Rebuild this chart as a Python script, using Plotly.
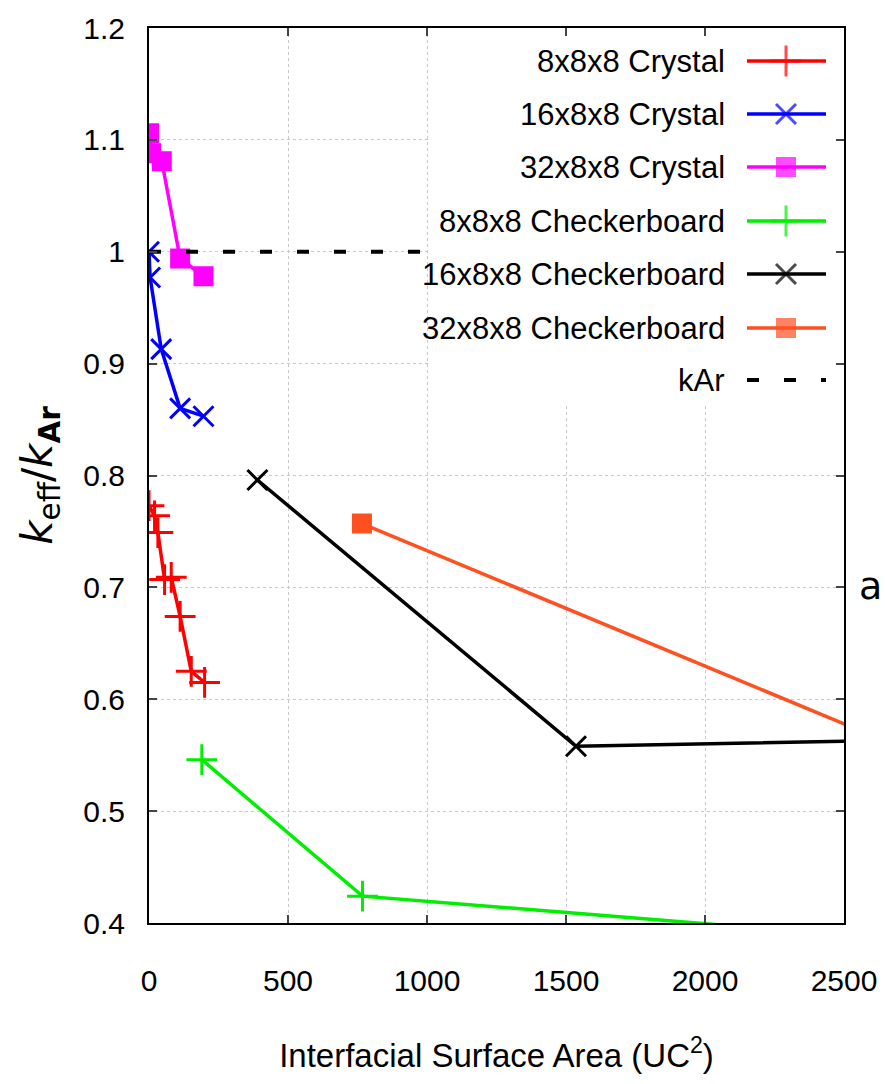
import plotly.graph_objects as go

# ---- data ----
x_c8 = [0, 20, 32, 56, 80, 112, 152, 200]
y_c8 = [0.773, 0.764, 0.749, 0.707, 0.709, 0.674, 0.625, 0.615]
x_c16 = [0, 4, 44, 112, 196]
y_c16 = [1.000, 0.977, 0.913, 0.860, 0.853]
x_c32 = [0, 8, 46, 112, 196]
y_c32 = [1.106, 1.088, 1.081, 0.994, 0.978]
x_cb8 = [190, 768, 3072]
y_cb8 = [0.546, 0.424, 0.378]
x_cb16 = [390, 1536, 3072]
y_cb16 = [0.796, 0.558, 0.565]
x_cb32 = [766, 3072]
y_cb32 = [0.757, 0.519]
x_kar = [0, 2500]
y_kar = [1.0, 1.0]

names = ["8x8x8 Crystal", "16x8x8 Crystal", "32x8x8 Crystal",
         "8x8x8 Checkerboard", "16x8x8 Checkerboard", "32x8x8 Checkerboard", "kAr"]
x_ticks = [0, 500, 1000, 1500, 2000, 2500]
y_ticks = [0.4, 0.5, 0.6, 0.7, 0.8, 0.9, 1.0, 1.1, 1.2]

# ---- styles ----
SANS = "Liberation Sans, Arial, sans-serif"
RED, BLUE, MAG, GREEN, BLACK, ORANGE = "#ff0000", "#0000ff", "#ff00ff", "#00ee00", "#000000", "#ff5020"
series = [
    (x_c8, y_c8, RED, "cross-thin", 22),
    (x_c16, y_c16, BLUE, "x-thin", 20),
    (x_c32, y_c32, MAG, "square", 17),
    (x_cb8, y_cb8, GREEN, "cross-thin", 22),
    (x_cb16, y_cb16, BLACK, "x-thin", 20),
    (x_cb32, y_cb32, ORANGE, "square", 17),
]

fig = go.Figure()
for (xs, ys, col, sym, sz), nm in zip(series, names):
    fig.add_trace(go.Scatter(
        x=xs, y=ys, name=nm, mode="lines+markers",
        line=dict(color=col, width=3.5),
        marker=dict(symbol=sym, size=sz, color=col, line=dict(color=col, width=3)),
        cliponaxis=True, showlegend=False))

fig.add_trace(go.Scatter(x=x_kar, y=y_kar, name=names[6], mode="lines",
                         line=dict(color=BLACK, width=4, dash="12px,25px"),
                         showlegend=False))

# ---- hand-built key (gnuplot style: text then sample), on a pixel overlay axis ----
W, H = 885, 1084
L, R, T, B = 149, 844, 28, 923
fig.add_trace(go.Scatter(x=[430, R, R, 430, 430], y=[T, T, 406, 406, T],
                         fill="toself", fillcolor="white", mode="lines",
                         line=dict(width=0, color="white"),
                         xaxis="x2", yaxis="y2", showlegend=False, hoverinfo="skip"))
row_y = [61, 114, 167, 221, 274, 328, 380]
sx0, sx1, sxm = 747, 826, 786
styles = [(c, s, z) for (_, _, c, s, z) in series]
for i, nm in enumerate(names):
    yy = row_y[i]
    if i < 6:
        col, sym, sz = styles[i]
        fig.add_trace(go.Scatter(
            x=[sx0, sxm, sx1], y=[yy, yy, yy], mode="lines+markers",
            line=dict(color=col, width=3.5),
            marker=dict(symbol=sym, size=[0, sz, 0], color=col, line=dict(color=col, width=3)),
            xaxis="x2", yaxis="y2", showlegend=False, hoverinfo="skip"))
    else:
        fig.add_trace(go.Scatter(
            x=[sx0, sx1], y=[yy, yy], mode="lines",
            line=dict(color=BLACK, width=4, dash="12px,25px"),
            xaxis="x2", yaxis="y2", showlegend=False, hoverinfo="skip"))
    fig.add_annotation(x=727, y=yy, xref="x2", yref="y2", text=nm, showarrow=False,
                       xanchor="right", yanchor="middle",
                       font=dict(family=SANS, size=31, color="black"))

# panel letter, outside the plot on the right
fig.add_annotation(x=(884 - L) / (R - L), y=(B - 586) / (B - T), xref="paper", yref="paper",
                   text="a", showarrow=False, xanchor="right", yanchor="middle",
                   font=dict(family="DejaVu Sans, sans-serif", size=38, color="black"))

axis_common = dict(
    showline=True, linecolor="black", linewidth=2, mirror="ticks",
    ticks="inside", ticklen=8, tickwidth=2, tickcolor="#444444",
    showgrid=True, gridcolor="#c8c8c8", griddash="dot", gridwidth=1,
    zeroline=False, automargin=False,
    tickfont=dict(family=SANS, size=30, color="black"),
)
fig.update_layout(
    width=W, height=H,
    margin=dict(l=L, r=W - R, t=T, b=H - B),
    paper_bgcolor="white", plot_bgcolor="white",
    xaxis=dict(range=[0, 2500], tickvals=x_ticks, ticktext=[str(v) for v in x_ticks],
               ticklabelstandoff=30,
               title=dict(text="Interfacial Surface Area (UC<sup>2</sup>)",
                          font=dict(family=SANS, size=33, color="black"), standoff=48),
               **axis_common),
    yaxis=dict(range=[0.4, 1.2], tickvals=y_ticks, ticktext=[f"{v:g}" for v in y_ticks],
               ticklabelstandoff=16,
               title=dict(text="<i>k</i><sub>eff</sub>/<i>k</i><sub><b>Ar</b></sub>",
                          font=dict(family="DejaVu Sans, sans-serif", size=42, color="black"),
                          standoff=18),
               **axis_common),
    xaxis2=dict(overlaying="x", range=[L, R], visible=False, fixedrange=True),
    yaxis2=dict(overlaying="y", range=[B, T], visible=False, fixedrange=True),
    showlegend=False,
)

fig.write_html("out.html")
